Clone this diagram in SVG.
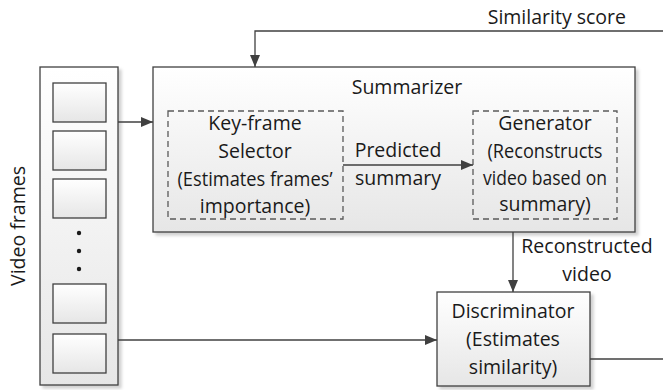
<svg xmlns="http://www.w3.org/2000/svg" width="663" height="390" viewBox="0 0 663 390">
<defs>
<linearGradient id="g" x1="0" y1="0" x2="0" y2="1">
<stop offset="0" stop-color="#ffffff"/>
<stop offset="1" stop-color="#e6e6e6"/>
</linearGradient>
<filter id="sh" x="-10%" y="-10%" width="130%" height="130%">
<feDropShadow dx="3" dy="3" stdDeviation="1.5" flood-color="#000" flood-opacity="0.18"/>
</filter>
<marker id="ah" viewBox="0 0 12 10" refX="12" refY="5" markerWidth="12" markerHeight="10" markerUnits="userSpaceOnUse" orient="auto">
<path d="M0,0 L12,5 L0,10 Z" fill="#404040"/>
</marker>
</defs>
<style>
.box{fill:url(#g);stroke:#404040;stroke-width:1.3;filter:url(#sh)}
.frm{fill:url(#g);stroke:#404040;stroke-width:1.3}
.dash{fill:none;stroke:#595959;stroke-width:1.3;stroke-dasharray:6,4}
.ln{fill:none;stroke:#404040;stroke-width:1.3}
.t{font-family:"Open Sans","Liberation Sans",sans-serif;font-size:19.5px;fill:#1a1a1a;text-anchor:middle}
</style>
<rect width="663" height="390" fill="#fff"/>
<g id="video-frames">
<rect class="box" x="40" y="67" width="78" height="318"/>
<rect class="frm" x="53" y="83" width="53" height="39"/>
<rect class="frm" x="53" y="131" width="53" height="39"/>
<rect class="frm" x="53" y="179" width="53" height="39"/>
<circle cx="79" cy="233" r="2.2" fill="#1a1a1a"/>
<circle cx="79" cy="251" r="2.2" fill="#1a1a1a"/>
<circle cx="79" cy="269" r="2.2" fill="#1a1a1a"/>
<rect class="frm" x="53" y="284" width="53" height="39"/>
<rect class="frm" x="53" y="334" width="53" height="39"/>
<text class="t" transform="translate(25,226) rotate(-90)">Video frames</text>
</g>
<g id="summarizer">
<rect class="box" x="153" y="67" width="482" height="165"/>
<text class="t" x="407" y="94">Summarizer</text>
</g>
<g id="key-frame-selector">
<rect class="dash" x="168" y="111" width="175" height="108"/>
<text class="t" x="255" y="130">Key-frame</text>
<text class="t" x="255" y="158">Selector</text>
<text class="t" x="255" y="186" textLength="155" lengthAdjust="spacingAndGlyphs">(Estimates frames’</text>
<text class="t" x="255" y="213">importance)</text>
</g>
<g id="generator">
<rect class="dash" x="473" y="111" width="144" height="108"/>
<text class="t" x="545" y="130">Generator</text>
<text class="t" x="545" y="158" textLength="115" lengthAdjust="spacingAndGlyphs">(Reconstructs</text>
<text class="t" x="545" y="185" textLength="124" lengthAdjust="spacingAndGlyphs">video based on</text>
<text class="t" x="545" y="211">summary)</text>
</g>
<g id="discriminator">
<rect class="box" x="437" y="292" width="153" height="94"/>
<text class="t" x="513" y="318">Discriminator</text>
<text class="t" x="513" y="346">(Estimates</text>
<text class="t" x="513" y="374">similarity)</text>
</g>
<g id="connectors">
<path class="ln" d="M118,122 H153" marker-end="url(#ah)"/>
<path class="ln" d="M343,165 H473" marker-end="url(#ah)"/>
<path class="ln" d="M513,232 V292" marker-end="url(#ah)"/>
<path class="ln" d="M118,340 H437" marker-end="url(#ah)"/>
<path class="ln" d="M590,359 H663"/>
<path class="ln" d="M663,31 H255 V67" marker-end="url(#ah)"/>
<text class="t" x="398" y="157">Predicted</text>
<text class="t" x="398" y="185">summary</text>
<text class="t" x="587" y="253">Reconstructed</text>
<text class="t" x="587" y="281">video</text>
<text class="t" x="626" y="24" style="text-anchor:end">Similarity score</text>
</g>
</svg>
